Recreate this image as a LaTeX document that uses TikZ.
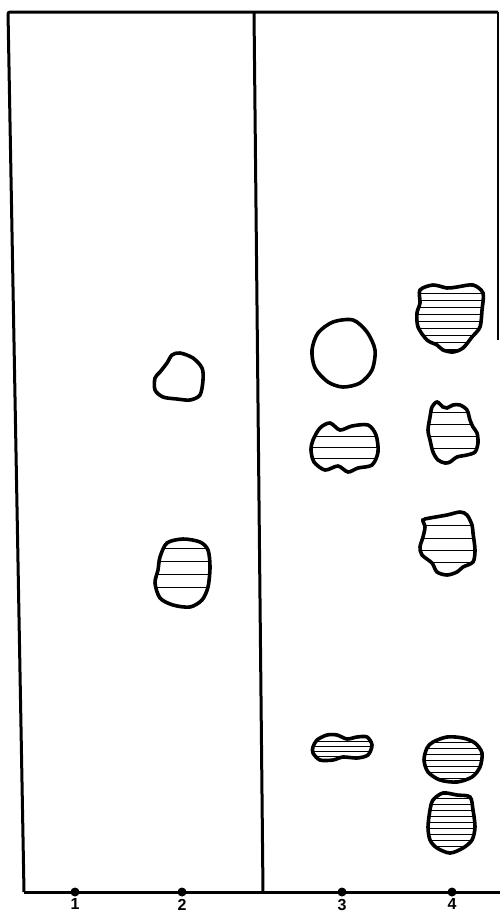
\documentclass[tikz,border=0pt]{standalone}
\usepackage{fontspec}
\setsansfont{Liberation Sans}
\usepackage{tikz}
\usetikzlibrary{positioning}
\newcommand{\hatchspot}[2]{%
  \begin{scope}
    \clip plot[smooth cycle] coordinates {#1};
    \foreach \hy in {#2} \draw[hatch] (0,\hy) -- (500,\hy);
  \end{scope}
  \draw[spot] plot[smooth cycle] coordinates {#1};}

\begin{document}
\begin{tikzpicture}[x=1pt, y=-1pt,
  frame/.style={line width=3pt, line join=round},
  spot/.style={line width=3.6pt},
  hatch/.style={line width=1pt},
  dot/.style={circle, fill, inner sep=0pt, minimum size=9pt},
  lab/.style={font=\sffamily\bfseries\fontsize{16}{16}\selectfont, inner sep=0pt}]
  \useasboundingbox (0,0) rectangle (500,916);
  \draw[frame, rounded corners=2pt] (24,892) -- (8,12) -- (498,12);
  \draw[line width=1.3pt] (498,12) -- (498,340);
  \draw[frame] (254,12) -- (263,892);
  \draw[frame] (24,892) -- (500,892);
  \foreach \i/\x in {1/75, 2/182, 3/342, 4/452} {
    \node[dot] (d\i) at (\x,892) {};
    \node[lab, below=2pt of d\i] (l\i) {\i};
  }
  % lane 2
  \draw[spot] plot[smooth cycle] coordinates {(172,355) (180,353) (193,358) (202,368) (203,380) (200,395) (190,400) (177,399) (163,397) (155,390) (155,378) (160,372) (167,363)};
  \hatchspot{(167,543) (183,539) (200,542) (208,550) (210,567) (208,587) (202,600) (190,607) (173,605) (160,598) (155,583) (158,570) (160,557)}{548,561,574,587}
  % lane 3
  \draw[spot] plot[smooth cycle] coordinates {(333,322) (353,320) (367,332) (375,350) (372,370) (360,383) (343,387) (328,382) (315,368) (312,350) (318,333)};
  \hatchspot{(313,440) (320,428) (330,423) (340,430) (352,426) (368,425) (376,435) (378,452) (372,465) (358,468) (348,472) (338,466) (325,470) (314,462) (311,450)}{436,447,458}
  \hatchspot{(317,740) (327,735) (337,735) (347,739) (357,737) (367,737) (372,745) (368,755) (357,758) (343,757) (333,760) (320,760) (313,753) (313,747)}{741,746,751,756}
  % lane 4
  \hatchspot{(420,290) (433,285) (447,288) (457,287) (473,285) (483,293) (482,310) (480,327) (472,337) (463,348) (453,352) (443,350) (437,345) (427,340) (418,327) (417,313) (420,303)}{293,300,...,350}
  \hatchspot{(432,407) (437,402) (443,407) (447,408) (453,405) (460,405) (467,410) (470,420) (473,427) (477,433) (478,443) (475,452) (467,455) (457,457) (450,462) (445,463) (438,460) (433,452) (430,440) (428,430) (430,417)}{412,424,436,448}
  \hatchspot{(423,520) (430,518) (447,515) (460,512) (467,515) (472,525) (473,533) (475,550) (473,562) (463,567) (457,572) (447,575) (437,572) (432,563) (422,555) (420,547) (423,537) (425,527)}{525,538,550,562}
  \hatchspot{(433,742) (447,737) (463,738) (475,743) (482,753) (480,767) (472,777) (457,782) (440,780) (428,772) (424,760) (427,748)}{742,748,...,780}
  \hatchspot{(433,800) (443,793) (457,795) (470,797) (473,810) (475,827) (472,840) (463,848) (450,853) (437,848) (430,840) (428,827) (430,810)}{798,804,...,850}
\end{tikzpicture}
\end{document}
